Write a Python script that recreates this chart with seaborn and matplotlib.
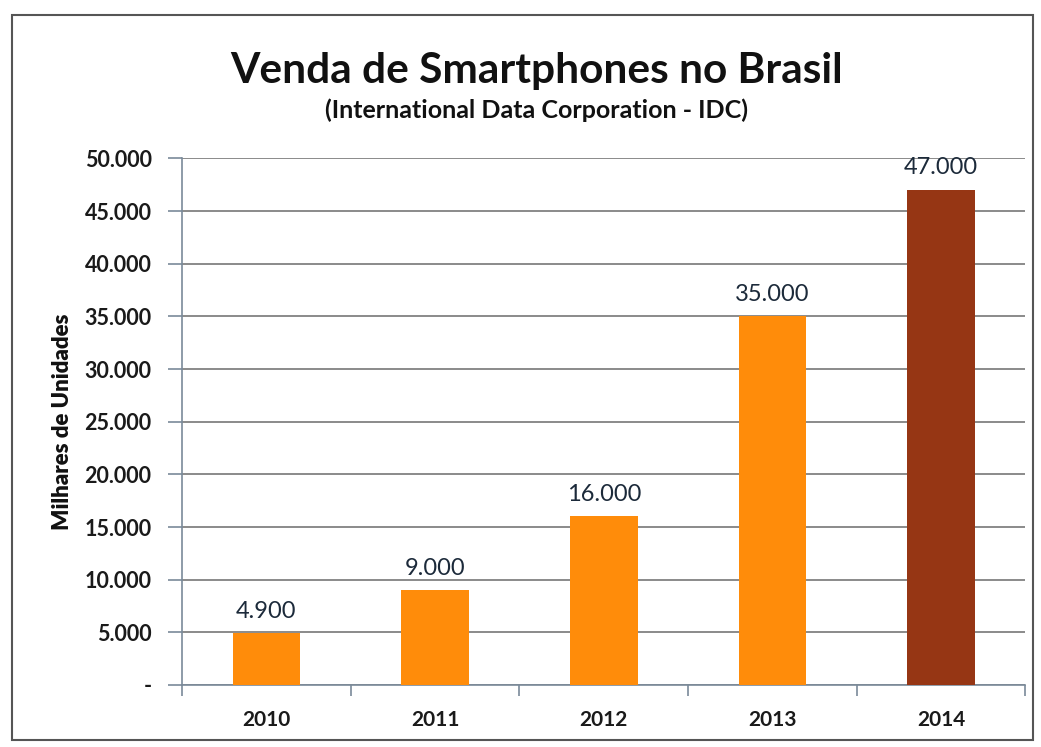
import matplotlib.pyplot as plt
import matplotlib.patches as mpatches
import numpy as np
import pandas as pd
import seaborn as sns

anos = ["2010", "2011", "2012", "2013", "2014"]
vendas = [4900, 9000, 16000, 35000, 47000]
cores = ["#FF8C0A", "#FF8C0A", "#FF8C0A", "#FF8C0A", "#963614"]
rotulos = ["4.900", "9.000", "16.000", "35.000", "47.000"]
yticks = [0, 5000, 10000, 15000, 20000, 25000, 30000, 35000, 40000, 45000, 50000]
ytick_labels = ["-", "5.000", "10.000", "15.000", "20.000", "25.000", "30.000",
                "35.000", "40.000", "45.000", "50.000"]

sns.set_style("white")
plt.rcParams["font.family"] = ["Lato", "DejaVu Sans"]

df = pd.DataFrame({"ano": anos, "vendas": vendas})

fig = plt.figure(figsize=(10.41, 7.47), dpi=100)
ax = fig.add_axes([0.175, 0.083, 0.81, 0.705])

sns.barplot(data=df, x="ano", y="vendas", hue="ano", palette=cores,
            width=0.40, legend=False, saturation=1, linewidth=0, ax=ax, zorder=3)

ax.set_ylim(0, 50000)
ax.set_xlim(-0.5, 4.5)
ax.set_yticks(yticks)
ax.set_yticklabels(ytick_labels)
ax.grid(axis="y", color="#8a8a8a", linewidth=1.4, zorder=0)
ax.set_axisbelow(True)

for s in ["top", "right"]:
    ax.spines[s].set_visible(False)
ax.spines["left"].set_color("#7a8a9a")
ax.spines["bottom"].set_color("#7a8a9a")
ax.spines["left"].set_linewidth(1.2)
ax.spines["bottom"].set_linewidth(1.2)

ax.tick_params(axis="y", which="major", direction="out", length=10, width=1.2,
               color="#7a8a9a", labelsize=15.5, pad=12, left=True)
ax.set_xticks(np.arange(-0.5, 5.0, 1.0), minor=True)
ax.tick_params(axis="x", which="minor", direction="out", length=8, width=1.2,
               color="#7a8a9a", bottom=True)
ax.tick_params(axis="x", which="major", length=0, labelsize=15, pad=18)
plt.setp(ax.get_yticklabels(), fontweight="bold", color="#1a1a1a")
plt.setp(ax.get_xticklabels(), fontweight="bold", color="#1a1a1a")

ax.set_xlabel("")
ax.set_ylabel("Milhares de Unidades", fontsize=16, fontweight="heavy", labelpad=8,
              color="#111111")

for i, (v, r) in enumerate(zip(vendas, rotulos)):
    ax.text(i, v + 1100, r, ha="center", va="bottom", fontsize=17, color="#1c2a3a")

fig.text(0.515, 0.905, "Venda de Smartphones no Brasil", ha="center", va="center",
         fontsize=30.5, fontweight="bold", color="#111111")
fig.text(0.515, 0.852, "(International Data Corporation - IDC)", ha="center",
         va="center", fontsize=18, fontweight="bold", color="#111111")

fig.patches.append(mpatches.Rectangle((0.012, 0.01), 0.98, 0.97, transform=fig.transFigure,
                                      fill=False, edgecolor="#555555", linewidth=1.5))

plt.savefig("out.png", dpi=100)
